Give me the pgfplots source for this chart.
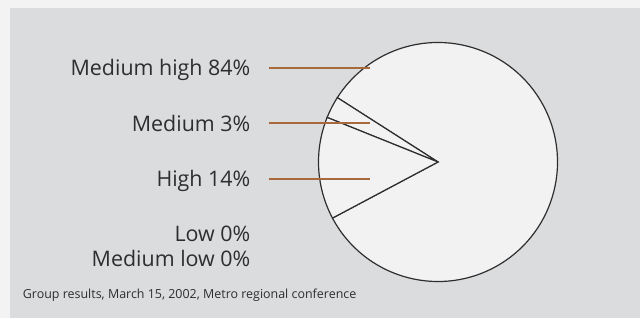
\documentclass[border=0pt]{standalone}
\usepackage{fontspec}
\setmainfont{Open Sans}
\usepackage{pgfplots}
\usepackage{pgfplotstable}
\pgfplotsset{compat=1.18}
\definecolor{bgwhite}{HTML}{F3F3F3}
\definecolor{bggray}{HTML}{DADCDE}
\definecolor{slicefill}{HTML}{F2F2F2}
\definecolor{leader}{HTML}{A86A3C}
\definecolor{txt}{HTML}{2E2E2E}
\pgfplotstableread{
label value
MediumHigh 84
Medium 3
High 14
Low 0
MediumLow 0
}\piedata
\begin{document}
\begin{tikzpicture}
\begin{axis}[
  x=1bp, y=1bp,
  xmin=0, xmax=640, ymin=0, ymax=318,
  enlargelimits=false,
  hide axis,
  clip=false,
]
\fill[bgwhite] (axis cs:0,0) rectangle (axis cs:640,318);
\fill[bggray] (axis cs:10,0) rectangle (axis cs:640,310);
% total
\gdef\total{0}
\pgfplotstablegetrowsof{\piedata}
\pgfmathtruncatemacro\nrows{\pgfplotsretval-1}
\pgfplotsforeachungrouped \i in {0,...,\nrows} {
  \pgfplotstablegetelem{\i}{value}\of\piedata
  \pgfmathsetmacro\newtotal{\total+\pgfplotsretval}
  \global\let\total\newtotal
}
\gdef\startang{208}
\pgfplotsforeachungrouped \i in {0,...,\nrows} {
  \pgfplotstablegetelem{\i}{value}\of\piedata
  \let\val\pgfplotsretval
  \pgfmathsetmacro\endang{\startang + \val/\total*360}
  \pgfmathparse{\val>0}
  \ifnum\pgfmathresult>0
  \edef\temp{\noexpand\filldraw[fill=slicefill, draw=txt, line width=1.2bp, line join=miter]
    (axis cs:438,156) -- ++(\startang:119.5bp) arc[start angle=\startang, end angle=\endang, radius=119.5bp] -- cycle;}
  \temp
  \fi
  \global\let\startang\endang
}
% leader lines
\fill[leader] (axis cs:269,249) rectangle (axis cs:370,251);
\fill[leader] (axis cs:269,194) rectangle (axis cs:370,196);
\fill[leader] (axis cs:269,138) rectangle (axis cs:370,140);
% labels
\begin{scope}[every node/.style={anchor=base east, inner sep=0pt, text=txt, font=\fontsize{21.5}{24}\selectfont}]
\node at (axis cs:250.5,242.5) {Medium high 84\%};
\node at (axis cs:250.5,186.5) {Medium 3\%};
\node at (axis cs:250.5,131.5) {High 14\%};
\node at (axis cs:250.5,76.3) {Low 0\%};
\node at (axis cs:250.5,51.3) {Medium low 0\%};
\end{scope}
\node[anchor=base west, inner sep=0pt, text=txt, font=\fontsize{12.5}{14}\selectfont] at (axis cs:22.7,19.7) {Group results, March 15, 2002, Metro regional conference};
\end{axis}
\end{tikzpicture}
\end{document}
